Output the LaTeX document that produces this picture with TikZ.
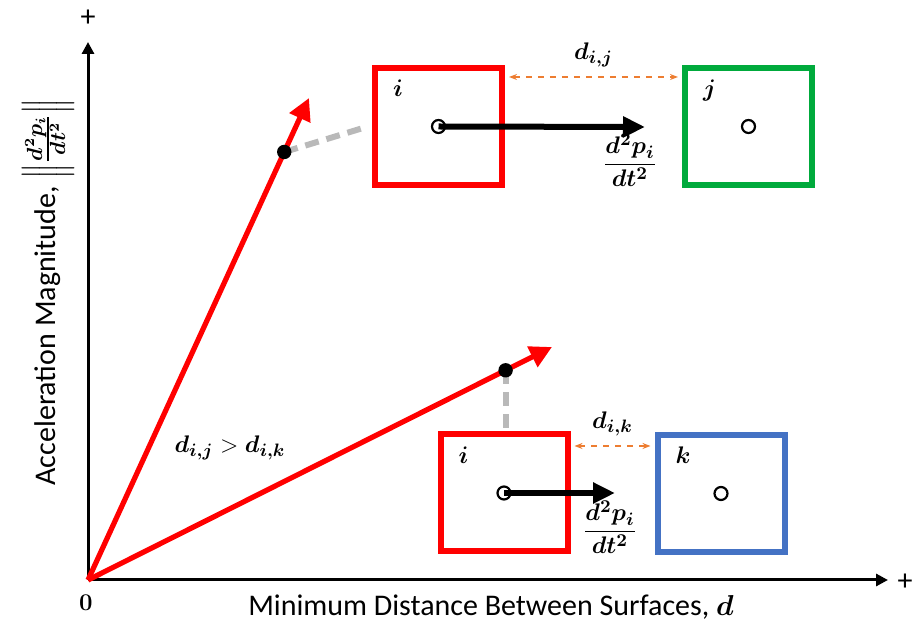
\documentclass[tikz,border=0pt]{standalone}
\usepackage{amsmath}
\usepackage{bm}
\usepackage{fontspec}
\setmainfont{Carlito}
\usepackage{xcolor}
\usetikzlibrary{arrows.meta}
\definecolor{bodyred}{RGB}{255,0,0}
\definecolor{bodygreen}{RGB}{0,170,60}
\definecolor{bodyblue}{RGB}{68,114,196}
\definecolor{gaporange}{RGB}{237,125,49}
\newcommand{\pacc}{\dfrac{\bm{d^2p_i}}{\bm{dt^2}}}

\begin{document}
\begin{tikzpicture}[x=0.5pt, y=-0.5pt,
    body/.style={draw, line width=3pt, minimum width=63.5pt, minimum height=58.5pt, inner sep=0pt},
    centre/.style={circle, draw, line width=1.1pt, minimum size=6.5pt, inner sep=0pt},
    tag/.style={font=\fontsize{13}{15}\selectfont, text=black},
    axislabel/.style={font=\fontsize{15}{18}\selectfont},
    axis/.style={line width=1.5pt, -{Triangle[length=6pt,width=6pt]}},
    trend/.style={bodyred, line width=2.6pt, -{Triangle[length=11pt,width=11pt]}},
    push/.style={line width=3pt, -{Triangle[length=11pt,width=10pt]}},
    gap/.style={gaporange, dashed, line width=0.9pt, {Stealth[length=4pt]}-{Stealth[length=4pt]}, shorten <=2pt, shorten >=2pt},
    link/.style={gray!55, line width=3pt, dash pattern=on 7pt off 4pt}]
    \useasboundingbox (0,0) rectangle (912,630);

    % Axes.
    \coordinate (O) at (88,580);
    \coordinate (ytop) at (88,42);
    \coordinate (xend) at (888,580);
    \draw[axis] (O) -- (ytop);
    \draw[axis] (O) -- (xend);
    \node[axislabel] (yplus) at (88,18) {+};
    \node[axislabel] (xplus) at (905,582) {+};
    \node[tag] (zero) at (86,603) {$\bm{0}$};
    \node[axislabel] (xlab) at (491,607) {Minimum Distance Between Surfaces, $\bm{d}$};
    \node[axislabel, rotate=90, inner sep=0pt] (ylab) at (48,292)
      {Acceleration Magnitude, $\left\|\frac{\bm{d^2p_i}}{\bm{dt^2}}\right\|$};

    % Bodies: i near j (top), i near k (bottom).
    \node[body, draw=bodyred] (bi) at (438.5,126.5) {};
    \node[body, draw=bodygreen] (bj) at (748.5,126.5) {};
    \node[body, draw=bodyred] (bl) at (504,493) {};
    \node[body, draw=bodyblue] (bk) at (721,493.5) {};

    \node[tag, anchor=north west] (ni) at ([shift={(7pt,-4pt)}]bi.north west) {$\bm{i}$};
    \node[tag, anchor=north west] (nj) at ([shift={(7pt,-4pt)}]bj.north west) {$\bm{j}$};
    \node[tag, anchor=north west] (nl) at ([shift={(7pt,-4pt)}]bl.north west) {$\bm{i}$};
    \node[tag, anchor=north west] (nk) at ([shift={(7pt,-4pt)}]bk.north west) {$\bm{k}$};

    % Centres.
    \node[centre] (ci) at (bi.center) {};
    \node[centre] (cj) at (bj.center) {};
    \node[centre] (cl) at (bl.center) {};
    \node[centre] (ck) at (bk.center) {};

    % Acceleration of i.
    \coordinate (ai) at (645,127);
    \coordinate (al) at (615,493);
    \draw[push] (ci.center) -- (ai);
    \draw[push] (cl.center) -- (al);
    \node[tag] (fi) at (630,160) {$\pacc$};
    \node[tag] (fl) at (610,527) {$\pacc$};

    % Surface gaps.
    \coordinate (gj) at (0,77);
    \coordinate (gk) at (0,446);
    \draw[gap] (bi.east |- gj) -- (bj.west |- gj)
      node[midway, above=1pt, tag] (dij) {$\bm{d_{i,j}}$};
    \draw[gap] (bl.east |- gk) -- (bk.west |- gk)
      node[midway, above=1pt, tag] (dik) {$\bm{d_{i,k}}$};

    % Trends from the origin.
    \coordinate (tj) at (309,98);
    \coordinate (tk) at (552,347);
    \draw[trend] (O) -- (tj) coordinate[pos=0.888] (dj);
    \draw[trend] (O) -- (tk) coordinate[pos=0.9] (dk);
    \draw[link] (dj) -- ([xshift=-2pt]bi.west);
    \draw[link] (dk) -- (dk |- bl.north);
    \fill (dj) circle (3.6pt);
    \fill (dk) circle (3.6pt);
    \node[tag] (cmp) at (230,448) {$\bm{d_{i,j}} > \bm{d_{i,k}}$};
\end{tikzpicture}
\end{document}
